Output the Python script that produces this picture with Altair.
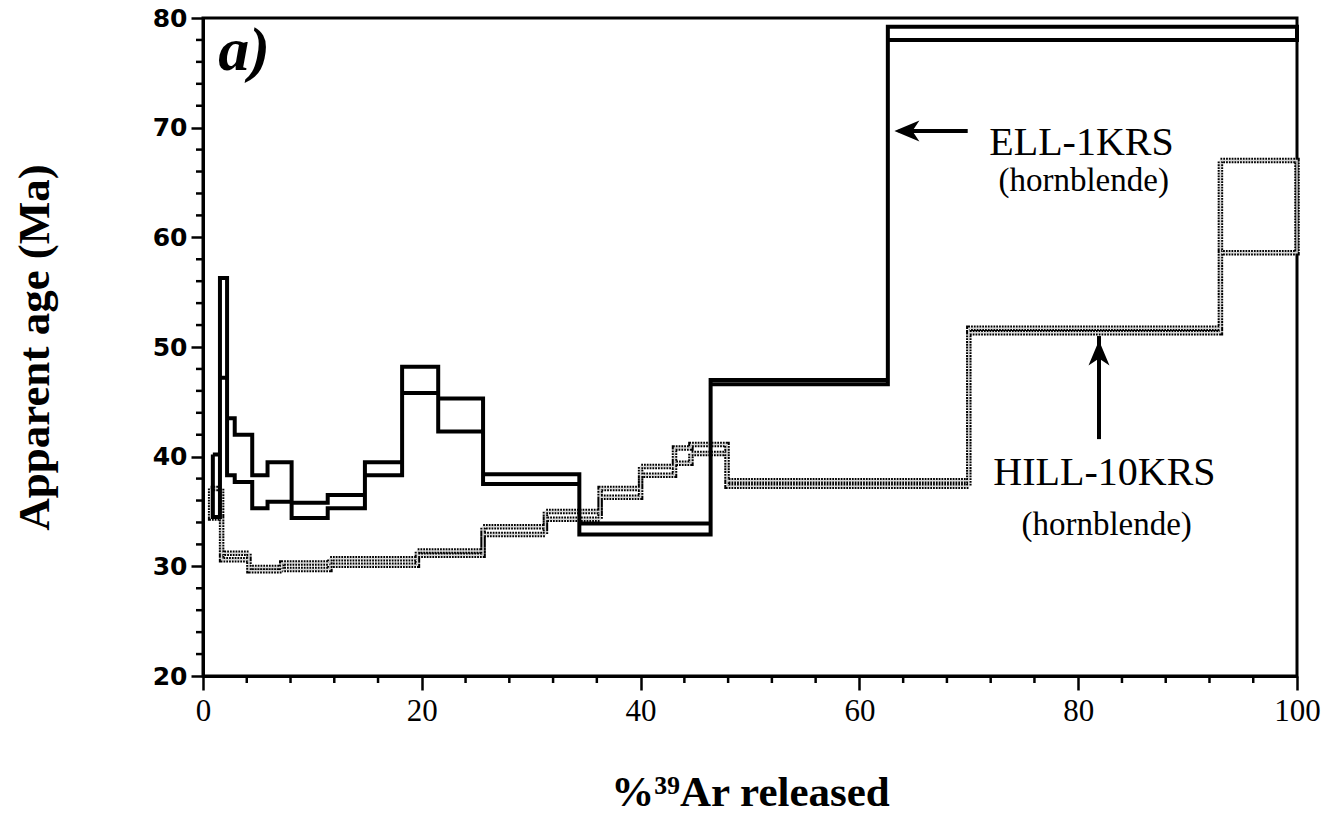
import altair as alt
import pandas as pd

# ---- step-heating age spectra (boxes: upper / lower 1-sigma bounds) ----
ell_edges = [0.9, 1.55, 2.2, 2.9, 4.5, 5.9, 8.1, 11.4, 14.8, 18.2, 21.5, 25.6, 34.4, 46.4, 62.6, 100.0]
ell_upper = [40.2, 56.3, 43.5, 42.0, 38.3, 39.5, 35.8, 36.5, 39.5, 48.2, 45.3, 38.4, 33.9, 47.0, 79.2]
ell_lower = [34.5, 47.2, 38.3, 37.7, 35.3, 35.9, 34.4, 35.3, 38.3, 45.8, 42.3, 37.5, 32.9, 46.6, 78.0]

hill_edges = [0.7, 1.7, 4.2, 7.2, 11.6, 19.6, 25.6, 31.3, 36.3, 40.0, 43.1, 44.6, 47.9, 70.0, 93.0, 100.0]
hill_upper = [37.1, 31.2, 29.9, 30.3, 30.7, 31.4, 33.6, 35.0, 37.1, 39.1, 40.8, 41.1, 37.8, 51.7, 67.0]
hill_lower = [34.4, 30.6, 29.6, 29.7, 30.1, 31.0, 32.9, 34.3, 36.3, 38.3, 39.4, 40.3, 37.3, 51.3, 58.6]

x_major = [0, 20, 40, 60, 80, 100]
x_minor = [4, 8, 12, 16, 24, 28, 32, 36, 44, 48, 52, 56, 64, 68, 72, 76, 84, 88, 92, 96]
y_major = [20, 30, 40, 50, 60, 70, 80]
y_minor = [22, 24, 26, 28, 32, 34, 36, 38, 42, 44, 46, 48, 52, 54, 56, 58,
           62, 64, 66, 68, 72, 74, 76, 78]

# ---- annotations ----
label_text = ["ELL-1KRS", "(hornblende)", "HILL-10KRS", "(hornblende)"]
label_x = [80.3, 80.5, 82.4, 82.6]
label_y = [67.5, 64.2, 37.4, 32.9]
label_size = [40, 33, 40, 33]

ell_arrow = {"x": [69.9], "x2": [63.6], "y": [69.7], "tipx": [63.2]}
hill_arrow = {"x": [81.9], "y": [41.6], "y2": [51.0], "tipy": [50.6]}


def outline(edges, upper, lower):
    pts = []
    for i, v in enumerate(upper):
        pts.append((edges[i], v))
        pts.append((edges[i + 1], v))
    for i in reversed(range(len(lower))):
        pts.append((edges[i + 1], lower[i]))
        pts.append((edges[i], lower[i]))
    pts.append(pts[0])
    return pd.DataFrame({"x": [p[0] for p in pts], "y": [p[1] for p in pts],
                         "order": list(range(len(pts)))})


ell_df = outline(ell_edges, ell_upper, ell_lower)
hill_df = outline(hill_edges, hill_upper, hill_lower)

xscale = alt.Scale(domain=[0, 100], nice=False, zero=False)
yscale = alt.Scale(domain=[20, 80], nice=False, zero=False)

x_axis = alt.Axis(
    values=x_major, tickSize=14, tickWidth=2.5, tickColor="black",
    domainWidth=3, domainColor="black",
    labelFont="Liberation Serif", labelFontSize=31, labelColor="black",
    labelPadding=6, labelFlush=False, labelOverlap=False,
    title="%³⁹Ar released", titleFont="Liberation Serif", titleFontSize=43,
    titleFontWeight="bold", titleColor="black", titleY=129, titleBaseline="alphabetic",
    grid=False,
)
y_axis = alt.Axis(
    values=y_major, tickSize=12, tickWidth=2.5, tickColor="black",
    domainWidth=3, domainColor="black",
    labelFont="DejaVu Sans", labelFontSize=25, labelFontWeight="bold", labelColor="black",
    labelPadding=4, labelFlush=False, labelOverlap=False,
    title="Apparent age (Ma)", titleFont="Liberation Serif", titleFontSize=45,
    titleFontWeight="bold", titleColor="black", titleX=-155, titleY=329,
    titleBaseline="alphabetic", titleAngle=-90,
    grid=False,
)

hill_outer = alt.Chart(hill_df).mark_line(
    color="black", strokeWidth=5.5, strokeDash=[1.8, 1.0], strokeJoin="miter"
).encode(
    x=alt.X("x:Q", scale=xscale, axis=x_axis),
    y=alt.Y("y:Q", scale=yscale, axis=y_axis),
    order="order:Q",
)
hill_inner = alt.Chart(hill_df).mark_line(
    color="#d8d8d8", strokeWidth=1.5, strokeJoin="miter"
).encode(x="x:Q", y="y:Q", order="order:Q")

ell_line = alt.Chart(ell_df).mark_line(
    color="black", strokeWidth=4, strokeJoin="miter"
).encode(x="x:Q", y="y:Q", order="order:Q")

# minor ticks (outward, shorter than the major ticks)
x_minor_ticks = alt.Chart(pd.DataFrame({"x": x_minor})).mark_rule(
    color="black", strokeWidth=2.5
).encode(x="x:Q", y=alt.value(658), y2=alt.value(665))
y_minor_ticks = alt.Chart(pd.DataFrame({"y": y_minor})).mark_rule(
    color="black", strokeWidth=2.5
).encode(y="y:Q", x=alt.value(-7), x2=alt.value(0))

labels_df = pd.DataFrame({"x": label_x, "y": label_y, "text": label_text, "fs": label_size})
labels = alt.Chart(labels_df).mark_text(
    font="Liberation Serif", align="center", baseline="alphabetic", color="black"
).encode(x="x:Q", y="y:Q", text="text:N", size=alt.Size("fs:Q", scale=None, legend=None))

panel_df = pd.DataFrame({"x": [1.4], "y": [75.3], "text": ["a)"]})
panel = alt.Chart(panel_df).mark_text(
    font="Liberation Serif", fontStyle="italic", fontWeight="bold", fontSize=62,
    align="left", baseline="alphabetic", color="black"
).encode(x="x:Q", y="y:Q", text="text:N")

ell_arrow_df = pd.DataFrame(ell_arrow)
ell_shaft = alt.Chart(ell_arrow_df).mark_rule(color="black", strokeWidth=4).encode(
    x="x:Q", x2="x2:Q", y="y:Q")
ell_head = alt.Chart(ell_arrow_df).mark_point(
    shape="M0,0 L1,-0.42 L0.72,0 L1,0.42 Z", size=2500, filled=True,
    color="black", opacity=1, strokeWidth=0
).encode(x="tipx:Q", y="y:Q")

hill_arrow_df = pd.DataFrame(hill_arrow)
hill_shaft = alt.Chart(hill_arrow_df).mark_rule(color="black", strokeWidth=4).encode(
    x="x:Q", y="y:Q", y2="y2:Q")
hill_head = alt.Chart(hill_arrow_df).mark_point(
    shape="M0,0 L-0.42,1 L0,0.72 L0.42,1 Z", size=2500, filled=True,
    color="black", opacity=1, strokeWidth=0
).encode(x="x:Q", y="tipy:Q")

chart = alt.layer(
    hill_outer, hill_inner, ell_line, x_minor_ticks, y_minor_ticks, labels, panel,
    ell_shaft, ell_head, hill_shaft, hill_head
).properties(
    width=1094, height=658,
    autosize=alt.AutoSizeParams(type="none"),
    padding={"left": 203, "top": 18, "right": 26, "bottom": 141},
    background="white",
).configure_view(stroke="black", strokeWidth=3)

chart.save("out.html", embed_options={"renderer": "svg", "actions": False})
